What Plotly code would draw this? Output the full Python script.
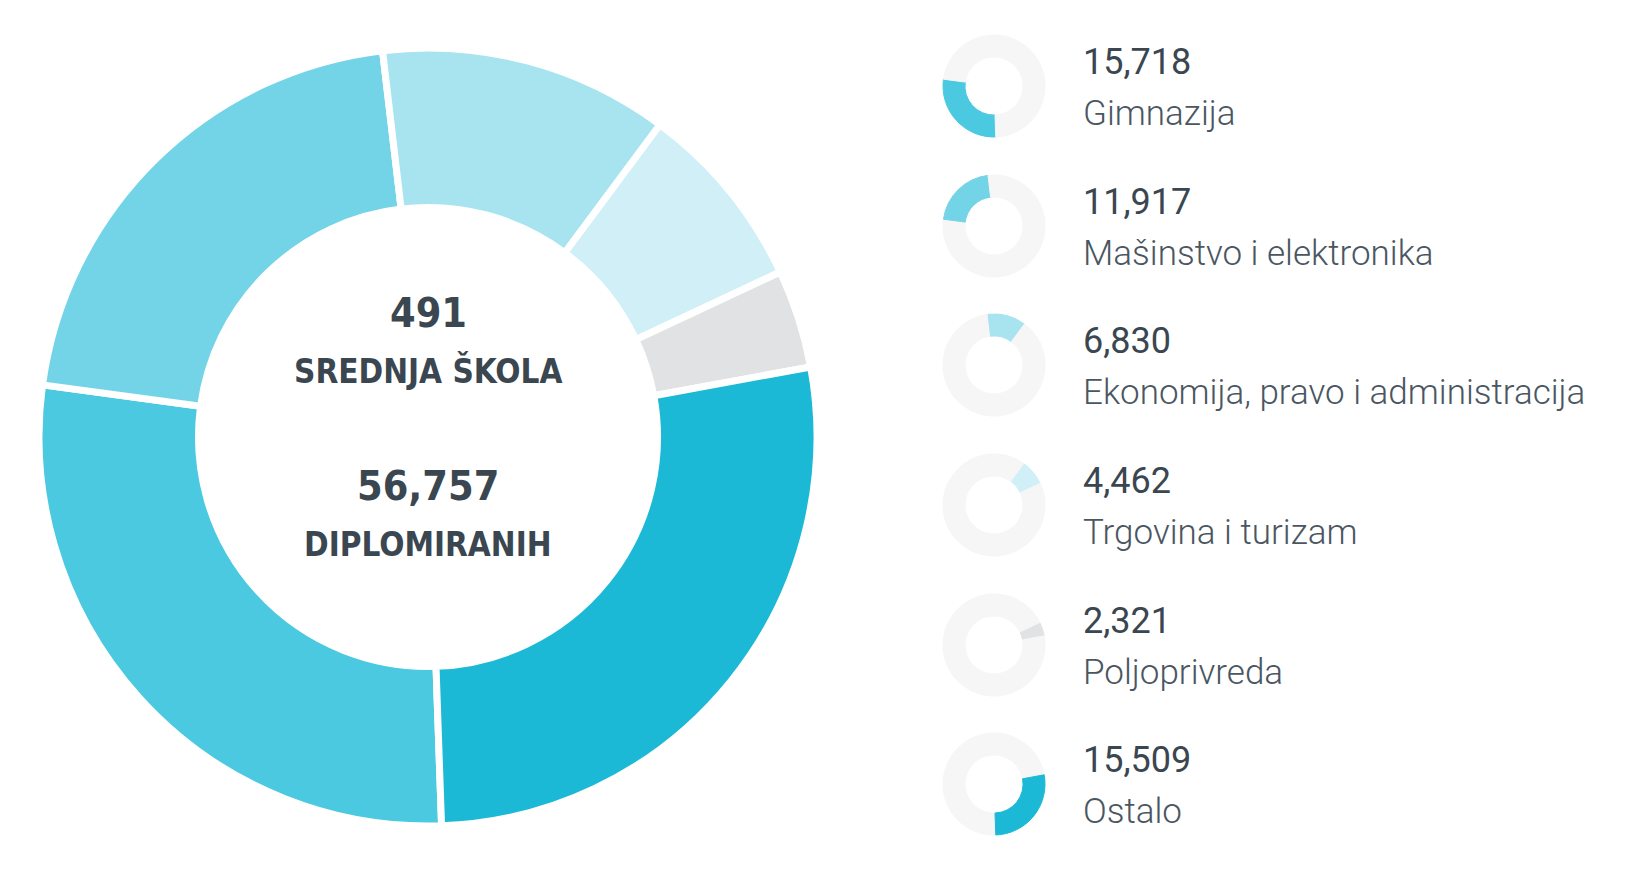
import plotly.graph_objects as go

# school profiles, number of graduates
categories = ["Gimnazija", "Mašinstvo i elektronika", "Ekonomija, pravo i administracija",
              "Trgovina i turizam", "Poljoprivreda", "Ostalo"]
graduates = [15718, 11917, 6830, 4462, 2321, 15509]
colors = ["#4bc9e0", "#74d4e7", "#a7e4f0", "#d0eff6", "#e1e2e3", "#1cb9d7"]
schools = 491
total = sum(graduates)

W, H = 1630, 884
OFF = 8  # page body margin
ring_bg = "#f6f6f6"
dark = "#3a4650"
narrow = "Liberation Sans Narrow, DejaVu Sans Condensed, Roboto, sans-serif"


def px(x):
    return (x - OFF) / W


def py(y):
    return 1 - (y - OFF) / H


def dom(cx, cy, r):
    # pixel circle -> paper domain
    return dict(x=[px(cx - r), px(cx + r)], y=[py(cy + r), py(cy - r)])


fig = go.Figure()

# big donut
fig.add_trace(go.Pie(
    labels=categories, values=graduates, sort=False, direction="clockwise",
    rotation=178, hole=0.59, textinfo="none", hoverinfo="label+value",
    marker=dict(colors=colors, line=dict(color="white", width=7)),
    domain=dom(428, 437, 389), showlegend=False,
))

# small donuts + labels on the right
row_y = [86, 226, 365, 505, 645, 784]
for i, cat in enumerate(categories):
    cols = [colors[i] if j == i else ring_bg for j in range(len(categories))]
    fig.add_trace(go.Pie(
        labels=categories, values=graduates, sort=False, direction="clockwise",
        rotation=178, hole=0.57, textinfo="none", hoverinfo="skip",
        marker=dict(colors=cols, line=dict(color=cols, width=1)),
        domain=dom(994, row_y[i], 51), showlegend=False,
    ))
    fig.add_annotation(
        x=px(1081), y=py(row_y[i] - 24), xref="paper", yref="paper",
        xanchor="left", yanchor="middle", showarrow=False,
        text=f"{graduates[i]:,}",
        font=dict(family="Roboto", size=36, color=dark, weight=400),
    )
    fig.add_annotation(
        x=px(1081), y=py(row_y[i] + 27), xref="paper", yref="paper",
        xanchor="left", yanchor="middle", showarrow=False,
        text=cat,
        font=dict(family="Roboto", size=35, color="#4a5661", weight=300),
    )

# centre text
centre = [(f"{schools}", 313, 41), ("SREDNJA ŠKOLA", 371, 33),
          (f"{total:,}", 486, 41), ("DIPLOMIRANIH", 544, 33)]
for txt, y, sz in centre:
    fig.add_annotation(
        x=px(428), y=py(y), xref="paper", yref="paper",
        xanchor="center", yanchor="middle", showarrow=False, text=txt,
        font=dict(family=narrow, size=sz, color=dark, weight="bold"),
    )

fig.update_layout(
    width=W, height=H, margin=dict(l=0, r=0, t=0, b=0),
    paper_bgcolor="white", plot_bgcolor="white",
)
fig.write_html("out.html")
